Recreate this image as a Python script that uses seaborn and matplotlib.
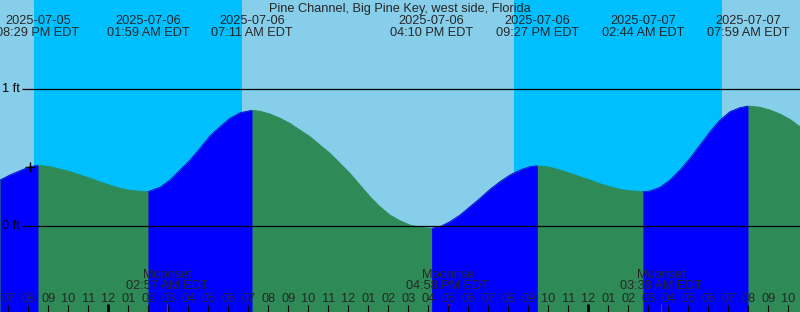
import numpy as np
import pandas as pd
import matplotlib
matplotlib.use("Agg")
import matplotlib.pyplot as plt
import seaborn as sns

# ---------------- data (hours relative to 2025-07-06 00:00 EDT, heights in ft) -------------
title = "Pine Channel, Big Pine Key, west side, Florida"

curve_hours = [-5.415, -4.915, -4.415, -3.915, -3.517, -2.915, -2.415, -1.915, -1.415,
               -0.915, -0.415, 0.085, 0.585, 1.085, 1.585, 1.983, 2.585, 3.085, 3.585,
               4.085, 4.585, 5.085, 5.585, 6.085, 6.585, 7.183, 7.585, 8.085, 8.585,
               9.085, 9.585, 10.085, 10.585, 11.085, 11.585, 12.085, 12.585, 13.085,
               13.585, 14.085, 14.585, 15.085, 15.585, 16.167, 16.585, 17.085, 17.585,
               18.085, 18.585, 19.085, 19.585, 20.085, 20.585, 21.085, 21.45, 22.085,
               22.585, 23.085, 23.585, 24.085, 24.585, 25.085, 25.585, 26.085, 26.733,
               27.085, 27.585, 28.085, 28.585, 29.085, 29.585, 30.085, 30.585, 31.085,
               31.585, 31.983, 32.585, 33.085, 33.585, 34.085, 34.585]
curve_ft = [0.337, 0.374, 0.405, 0.434, 0.444, 0.434, 0.417, 0.398, 0.374,
            0.350, 0.323, 0.299, 0.277, 0.262, 0.255, 0.252, 0.284, 0.337, 0.410,
            0.483, 0.568, 0.658, 0.725, 0.787, 0.827, 0.845, 0.838, 0.818, 0.787,
            0.750, 0.701, 0.653, 0.592, 0.532, 0.459, 0.386, 0.301, 0.216,
            0.143, 0.082, 0.041, 0.009, -0.007, -0.015, -0.003, 0.034, 0.082,
            0.143, 0.204, 0.269, 0.325, 0.374, 0.410, 0.434, 0.441, 0.430,
            0.410, 0.386, 0.361, 0.337, 0.310, 0.288, 0.269, 0.259, 0.252,
            0.257, 0.284, 0.337, 0.410, 0.495, 0.592, 0.689, 0.774, 0.835,
            0.864, 0.876, 0.867, 0.847, 0.818, 0.779, 0.725]

event_hours = [-3.517, 1.983, 7.183, 16.167, 21.45, 26.733, 31.983]
event_kinds = ["high", "low", "high", "low", "high", "low", "high"]
event_dates = ["2025-07-05", "2025-07-06", "2025-07-06", "2025-07-06",
               "2025-07-06", "2025-07-07", "2025-07-07"]
event_times = ["08:29 PM EDT", "01:59 AM EDT", "07:11 AM EDT", "04:10 PM EDT",
               "09:27 PM EDT", "02:44 AM EDT", "07:59 AM EDT"]

night_start = [-3.715, 20.285]
night_end = [6.67, 30.67]

moon_hours = [2.95, 16.967, 27.633]
moon_names = ["Moonset", "Moonrise", "Moonset"]
moon_times = ["02:57 AM EDT", "04:58 PM EDT", "03:38 AM EDT"]

tick_hours = list(range(-5, 35))
tick_labels = ["07", "08", "09", "10", "11", "12",
               "01", "02", "03", "04", "05", "06", "07", "08", "09", "10", "11", "12",
               "01", "02", "03", "04", "05", "06", "07", "08", "09", "10", "11", "12",
               "01", "02", "03", "04", "05", "06", "07", "08", "09", "10"]
midnight_hours = [0, 24]

level_values = [0, 1]
level_labels = ["0 ft", "1 ft"]

mark_hour = -3.915
mark_ft = 0.434

# ---------------- style ----------------
DAY = "#87CEEB"
NIGHT = "#00BFFF"
FLOOD = "#0000FF"
EBB = "#2E8B57"

sns.set_style("white")
plt.rcParams["font.family"] = ["Liberation Sans", "DejaVu Sans"]
FS = 9.2

W, H = 800, 312
fig = plt.figure(figsize=(W / 100, H / 100), dpi=100)
ax = fig.add_axes([0, 0, 1, 1])
ax.set_facecolor(DAY)
fig.patch.set_facecolor(DAY)

# pixel geometry of the scale
X0, PXH = 108.3, 20.0       # x pixel of midnight, pixels per hour
Y0, PXF = 226.3, 137.3      # y pixel of 0 ft, pixels per ft


def px2h(px):
    return (px - X0) / PXH


def py2ft(py):
    return (Y0 - py) / PXF


xmin, xmax = px2h(0), px2h(W)
ymin, ymax = py2ft(H), py2ft(0)
ax.set_xlim(xmin, xmax)
ax.set_ylim(ymin, ymax)
ax.axis("off")

# night shading
for s, e in zip(night_start, night_end):
    ax.axvspan(s, e, color=NIGHT, lw=0, zorder=0)

# tide fills
ch = np.array(curve_hours)
cf = np.array(curve_ft)
ax.fill_between(ch, cf, ymin, color=EBB, lw=0, zorder=1)
bounds = [ch[0]] + event_hours + [ch[-1]]
seg_rows = []
for i in range(len(bounds) - 1):
    b0, b1 = bounds[i], bounds[i + 1]
    rising = (event_kinds[i] == "high") if i < len(event_kinds) else (event_kinds[-1] == "low")
    m = (ch >= b0 - 1e-9) & (ch <= b1 + 1e-9)
    phase = "flood" if rising else "ebb"
    if rising:
        ax.fill_between(ch[m], cf[m], ymin, color=FLOOD, lw=0, zorder=2)
    for hh, ff in zip(ch[m], cf[m]):
        seg_rows.append({"hour": hh, "ft": ff, "phase": phase, "seg": i})

seg_df = pd.DataFrame(seg_rows)
sns.lineplot(data=seg_df, x="hour", y="ft", hue="phase", units="seg", estimator=None,
             palette={"flood": FLOOD, "ebb": EBB}, linewidth=0.6, legend=False,
             ax=ax, zorder=3, sort=False)

# level lines
for v, lab in zip(level_values, level_labels):
    ax.plot([px2h(22), xmax], [v, v], color="black", lw=0.9, zorder=4,
            solid_capstyle="butt")
    ax.text(px2h(2.5), v, lab, ha="left", va="center", fontsize=FS, color="black", zorder=5)

# mark
ax.plot([mark_hour], [mark_ft], marker="+", markersize=7, mew=1.0, color="black", zorder=5)

# title and event labels
ax.text(px2h(400), py2ft(11.7), title, ha="center", va="baseline", fontsize=FS, zorder=6)
for t, d, tm in zip(event_hours, event_dates, event_times):
    ax.text(t, py2ft(24), d, ha="center", va="baseline", fontsize=FS, zorder=6)
    ax.text(t, py2ft(36), tm, ha="center", va="baseline", fontsize=FS, zorder=6)

# moon labels
for t, n, tm in zip(moon_hours, moon_names, moon_times):
    ax.text(t, py2ft(277.7), n, ha="center", va="baseline", fontsize=FS, zorder=6)
    ax.text(t, py2ft(289.3), tm, ha="center", va="baseline", fontsize=FS, zorder=6)
    ax.plot([t, t], [py2ft(303.5), ymin], color="red", lw=0.8, zorder=6,
            solid_capstyle="butt")

# hour ticks
for t, lab in zip(tick_hours, tick_labels):
    ax.text(t, py2ft(302.3), lab, ha="center", va="baseline", fontsize=FS, zorder=6)
    if t in midnight_hours:
        ax.plot([t, t], [py2ft(303.5), ymin], color="black", lw=1.9, zorder=6,
                solid_capstyle="butt")
    else:
        ax.plot([t, t], [py2ft(304.5), ymin], color="black", lw=0.8, zorder=6,
                solid_capstyle="butt")

fig.savefig("out.png", dpi=100, facecolor=DAY)
